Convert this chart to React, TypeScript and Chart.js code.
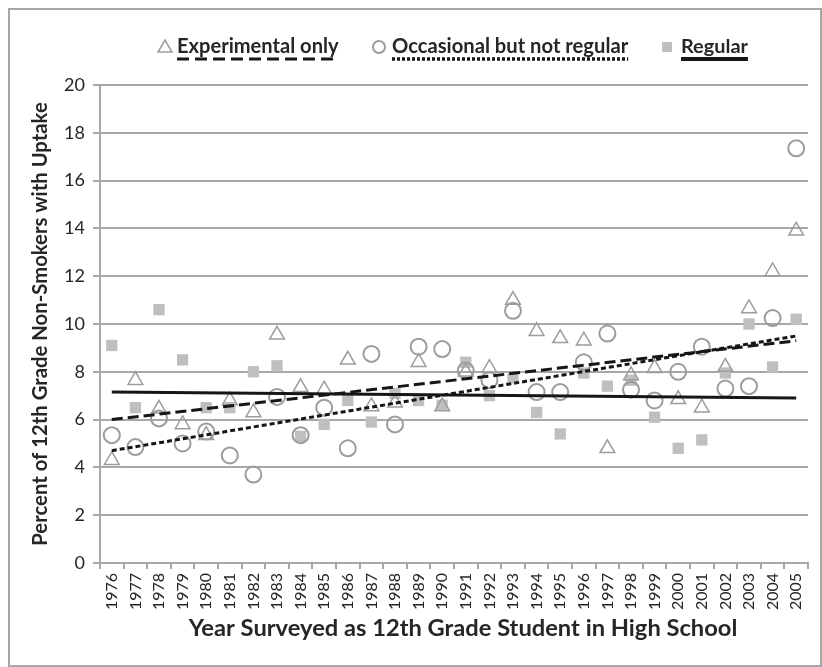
import React, { useEffect, useLayoutEffect, useRef } from 'react';
import { Chart, registerables } from 'chart.js';

Chart.register(...registerables);

const years = [
  '1976', '1977', '1978', '1979', '1980', '1981', '1982', '1983', '1984', '1985',
  '1986', '1987', '1988', '1989', '1990', '1991', '1992', '1993', '1994', '1995',
  '1996', '1997', '1998', '1999', '2000', '2001', '2002', '2003', '2004', '2005',
];

const experimental = [
  4.3, 7.65, 6.45, 5.8, 5.35, 6.8, 6.3, 9.55, 7.35, 7.25,
  8.5, 6.55, 6.7, 8.4, 6.55, 8.0, 8.15, 11.0, 9.7, 9.4,
  9.3, 4.8, 7.85, 8.15, 6.85, 6.5, 8.2, 10.65, 12.2, 13.9,
];

const occasional = [
  5.35, 4.85, 6.05, 5.0, 5.5, 4.5, 3.7, 6.95, 5.35, 6.5,
  4.8, 8.75, 5.8, 9.05, 8.95, 8.05, 7.65, 10.55, 7.15, 7.15,
  8.4, 9.6, 7.25, 6.8, 8.0, 9.05, 7.3, 7.4, 10.25, 17.35,
];

const regular = [
  9.1, 6.5, 10.6, 8.5, 6.5, 6.5, 8.0, 8.25, 5.3, 5.8,
  6.8, 5.9, 7.1, 6.8, 6.6, 8.4, 7.0, 7.75, 6.3, 5.4,
  7.95, 7.4, 7.65, 6.1, 4.8, 5.15, 7.95, 10.0, 8.2, 10.2,
];

// linear trend end values (first year, last year)
const experimentalTrend = [6.0, 9.3];
const occasionalTrend = [4.7, 9.5];
const regularTrend = [7.15, 6.9];

const yTicks = [0, 2, 4, 6, 8, 10, 12, 14, 16, 18, 20];

const seriesNames = ['Experimental only', 'Occasional but not regular', 'Regular'];
const xTitle = 'Year Surveyed as 12th Grade Student in High School';
const yTitle = 'Percent of 12th Grade Non-Smokers with Uptake';

const FONT = 'Lato, "Open Sans", "DejaVu Sans", sans-serif';
const MARK = '#9c9c9c';
const SQUARE = '#bfbfbf';
const LINE = '#161616';
const GRID = '#a8a8a8';
const TEXT = '#262626';

const legendLayout = [
  { marker: 'triangle', markerX: 155, textX: 167, textW: 162, dash: [12, 6], width: 3 },
  { marker: 'circle', markerX: 369, textX: 382, textW: 236, dash: [3, 2], width: 3.5 },
  { marker: 'square', markerX: 657, textX: 671, textW: 67, dash: [], width: 4 },
];

const xTitleLayout = { cx: 453, baseline: 626, width: 550 };

let measureCtx: CanvasRenderingContext2D | null = null;
function fitSize(text: string, weight: string, target: number): number {
  if (!measureCtx) measureCtx = document.createElement('canvas').getContext('2d');
  if (!measureCtx) return 18;
  measureCtx.font = `${weight} 100px ${FONT}`;
  const w = measureCtx.measureText(text).width;
  return Math.round((100 * target / w) * 10) / 10;
}

const legendPlugin = {
  id: 'customLegend',
  afterDraw(chart: any) {
    const ctx: CanvasRenderingContext2D = chart.ctx;
    ctx.save();
    const cy = 37;
    legendLayout.forEach((it, i) => {
      ctx.setLineDash([]);
      if (it.marker === 'triangle') {
        ctx.beginPath();
        ctx.moveTo(it.markerX, cy - 7);
        ctx.lineTo(it.markerX - 7, cy + 5);
        ctx.lineTo(it.markerX + 7, cy + 5);
        ctx.closePath();
        ctx.strokeStyle = MARK;
        ctx.lineWidth = 1.5;
        ctx.stroke();
      } else if (it.marker === 'circle') {
        ctx.beginPath();
        ctx.arc(it.markerX, cy, 6, 0, Math.PI * 2);
        ctx.strokeStyle = MARK;
        ctx.lineWidth = 2;
        ctx.stroke();
      } else {
        ctx.fillStyle = SQUARE;
        ctx.fillRect(it.markerX - 5, cy - 5, 10, 10);
      }
      const label = seriesNames[i];
      const size = fitSize(label, 'bold', it.textW);
      ctx.font = `bold ${size}px ${FONT}`;
      ctx.fillStyle = TEXT;
      ctx.textBaseline = 'alphabetic';
      ctx.textAlign = 'left';
      ctx.fillText(label, it.textX, 43);
      const w = ctx.measureText(label).width;
      ctx.beginPath();
      ctx.setLineDash(it.dash);
      ctx.lineWidth = it.width;
      ctx.strokeStyle = LINE;
      ctx.moveTo(it.textX, 49);
      ctx.lineTo(it.textX + w, 49);
      ctx.stroke();
    });

    // x axis title
    ctx.setLineDash([]);
    const xs = fitSize(xTitle, 'bold', xTitleLayout.width);
    ctx.font = `bold ${xs}px ${FONT}`;
    ctx.fillStyle = TEXT;
    ctx.textAlign = 'center';
    ctx.textBaseline = 'alphabetic';
    ctx.fillText(xTitle, xTitleLayout.cx, xTitleLayout.baseline);
    ctx.restore();
  },
};

export default function App() {
  const ref = useRef<HTMLCanvasElement | null>(null);

  useLayoutEffect(() => {
    document.body.style.margin = '0';
  }, []);

  useEffect(() => {
    const canvas = ref.current;
    if (!canvas) return;
    const first = years[0];
    const last = years[years.length - 1];
    const yTitleSize = fitSize(yTitle, 'bold', 444);
    const chart = new Chart(canvas, {
      type: 'line',
      data: {
        labels: years,
        datasets: [
          {
            label: seriesNames[0] + ' trend',
            data: [{ x: first, y: experimentalTrend[0] }, { x: last, y: experimentalTrend[1] }] as any,
            borderColor: LINE,
            borderWidth: 3,
            borderDash: [11, 5],
            pointRadius: 0,
            fill: false,
            order: 0,
          },
          {
            label: seriesNames[1] + ' trend',
            data: [{ x: first, y: occasionalTrend[0] }, { x: last, y: occasionalTrend[1] }] as any,
            borderColor: LINE,
            borderWidth: 3,
            borderDash: [5, 3],
            pointRadius: 0,
            fill: false,
            order: 0,
          },
          {
            label: seriesNames[2] + ' trend',
            data: [{ x: first, y: regularTrend[0] }, { x: last, y: regularTrend[1] }] as any,
            borderColor: LINE,
            borderWidth: 3,
            pointRadius: 0,
            fill: false,
            order: 0,
          },
          {
            label: seriesNames[1],
            data: occasional,
            showLine: false,
            pointStyle: 'circle',
            pointRadius: 8,
            pointBorderWidth: 2,
            pointBorderColor: MARK,
            pointBackgroundColor: 'rgba(0,0,0,0)',
            order: 1,
          },
          {
            label: seriesNames[0],
            data: experimental,
            showLine: false,
            pointStyle: 'triangle',
            pointRadius: 8.5,
            pointBorderWidth: 1.5,
            pointBorderColor: MARK,
            pointBackgroundColor: 'rgba(0,0,0,0)',
            order: 2,
          },
          {
            label: seriesNames[2],
            data: regular,
            showLine: false,
            pointStyle: 'rect',
            pointRadius: 8,
            pointBorderWidth: 0,
            pointBorderColor: SQUARE,
            pointBackgroundColor: SQUARE,
            order: 3,
          },
        ],
      },
      options: {
        animation: false,
        responsive: false,
        maintainAspectRatio: false,
        events: [],
        layout: { padding: { top: 75, right: 12, bottom: 0, left: 0 } },
        plugins: {
          legend: { display: false },
          tooltip: { enabled: false },
          title: { display: false },
        },
        scales: {
          x: {
            type: 'category',
            offset: true,
            grid: {
              offset: true,
              drawOnChartArea: false,
              drawTicks: true,
              tickLength: 6,
              color: GRID,
              lineWidth: 2,
            },
            border: { color: GRID, width: 2 },
            ticks: {
              minRotation: 90,
              maxRotation: 90,
              autoSkip: false,
              padding: 4,
              color: TEXT,
              font: { family: FONT, size: 16 },
            },
            title: { display: false },
            afterFit: (scale: any) => {
              scale.height = 102;
            },
          },
          y: {
            min: 0,
            max: 20,
            afterBuildTicks: (scale: any) => {
              scale.ticks = yTicks.map((v) => ({ value: v }));
            },
            grid: {
              color: GRID,
              lineWidth: 2,
              tickLength: 7,
            },
            border: { color: GRID, width: 2 },
            ticks: {
              padding: 8,
              color: TEXT,
              font: { family: FONT, size: 18 },
            },
            title: {
              display: true,
              text: yTitle,
              color: TEXT,
              font: { family: FONT, size: yTitleSize, weight: 'bold' },
              padding: { top: Math.max(0, 30 - 0.6 * yTitleSize), bottom: 0 },
            },
            afterFit: (scale: any) => {
              scale.width = 90;
            },
          },
        },
      },
      plugins: [legendPlugin],
    });
    return () => chart.destroy();
  }, []);

  return (
    <div style={{ position: 'relative', width: 822, height: 667, overflow: 'hidden', background: '#fff' }}>
      <div
        style={{
          position: 'absolute',
          left: 8,
          top: 8,
          width: 814,
          height: 659,
          boxSizing: 'border-box',
          border: '2px solid #a6a6a6',
          background: '#fff',
        }}
      >
        <canvas ref={ref} width={810} height={655} style={{ display: 'block' }} />
      </div>
    </div>
  );
}
